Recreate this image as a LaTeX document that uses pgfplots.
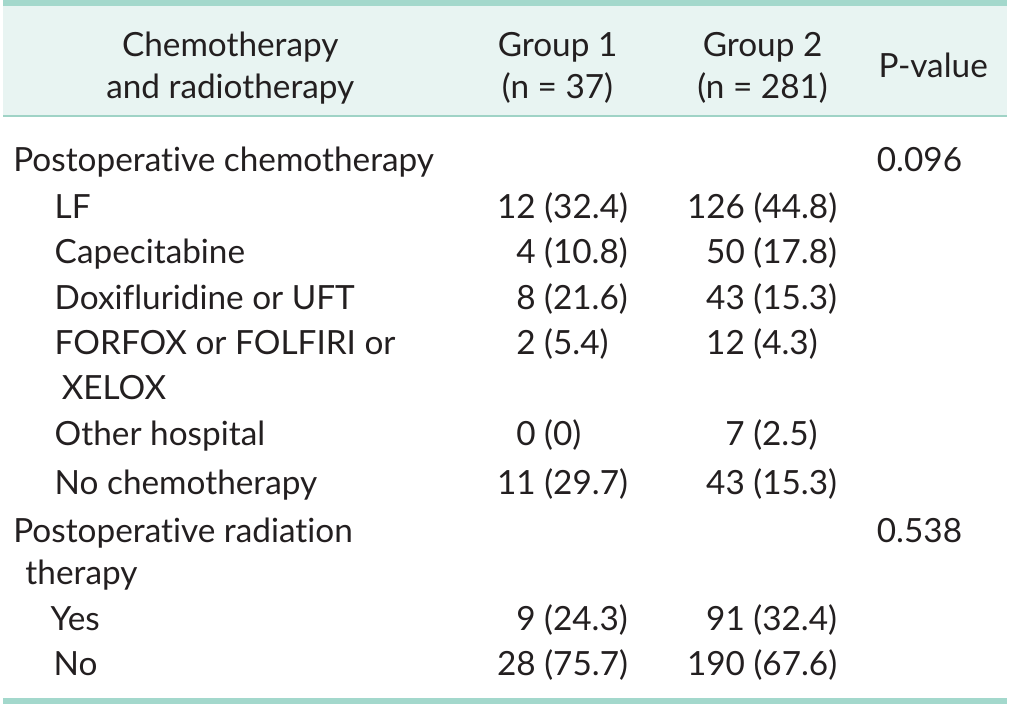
\documentclass[border=0pt]{standalone}
\usepackage{fontspec}
\setmainfont{Lato}[Ligatures=NoCommon]
\usepackage{pgfplots}
\usepackage{pgfplotstable}
\pgfplotsset{compat=1.18}
\definecolor{rulethick}{HTML}{A3D8CC}
\definecolor{rulethin}{HTML}{9FD3C6}
\definecolor{headbg}{HTML}{E8F4F2}
\definecolor{txt}{HTML}{231F20}

\pgfplotstableread[col sep=comma]{
x,y,lab
497,221,12 (32.4)
516,266,4 (10.8)
516,311,8 (21.6)
516,356,2 (5.4)
516,446,0 (0)
497,495,11 (29.7)
516,629,9 (24.3)
497,674,28 (75.7)
}\groupone

\pgfplotstableread[col sep=comma]{
x,y,lab
685,221,126 (44.8)
704,266,50 (17.8)
704,311,43 (15.3)
704,356,12 (4.3)
723,446,7 (2.5)
704,495,43 (15.3)
704,629,91 (32.4)
685,674,190 (67.6)
}\grouptwo

\pgfplotstableread[col sep=comma]{
x,y,lab
873,175,0.096
873,542,0.538
}\pvals

\begin{document}
\begin{tikzpicture}
\begin{axis}[
  width=1010pt, height=707pt, scale only axis,
  xmin=0, xmax=1010, ymin=0, ymax=707, y dir=reverse,
  hide axis, clip=false,
  every node near coord/.style={anchor=base west, inner sep=0pt, text=txt, font=\fontsize{33}{40}\selectfont},
]
\fill[headbg] (axis cs:8,11) rectangle (axis cs:1002,120);
\addplot[rulethick, line width=6pt, forget plot] coordinates {(8,8) (1002,8)};
\addplot[rulethin, line width=2pt, forget plot] coordinates {(8,120) (1002,120)};
\addplot[rulethick, line width=6pt, forget plot] coordinates {(8,699) (1002,699)};

\begin{scope}[every node/.style={inner sep=0pt, text=txt, font=\fontsize{33}{40}\selectfont}]
\node[anchor=base] at (axis cs:233,61) {Chemotherapy};
\node[anchor=base] at (axis cs:233,103) {and radiotherapy};
\node[anchor=base] at (axis cs:557,61) {Group 1};
\node[anchor=base] at (axis cs:557,103) {(n = 37)};
\node[anchor=base] at (axis cs:760,61) {Group 2};
\node[anchor=base] at (axis cs:760,103) {(n = 281)};
\node[anchor=base] at (axis cs:929,82) {P-value};

\node[anchor=base west] at (axis cs:18,175) {Postoperative chemotherapy};
\node[anchor=base west] at (axis cs:59,221) {LF};
\node[anchor=base west] at (axis cs:59,266) {Capecitabine};
\node[anchor=base west] at (axis cs:59,311) {Doxifluridine or UFT};
\node[anchor=base west] at (axis cs:59,356) {FORFOX or FOLFIRI or};
\node[anchor=base west] at (axis cs:66,401) {XELOX};
\node[anchor=base west] at (axis cs:59,446) {Other hospital};
\node[anchor=base west] at (axis cs:59,495) {No chemotherapy};
\node[anchor=base west] at (axis cs:18,542) {Postoperative radiation};
\node[anchor=base west] at (axis cs:30,584) {therapy};
\node[anchor=base west] at (axis cs:55,629) {Yes};
\node[anchor=base west] at (axis cs:58,674) {No};
\end{scope}

\addplot[draw=none, mark=none, nodes near coords, point meta=explicit symbolic] table[x=x, y=y, meta=lab] {\groupone};
\addplot[draw=none, mark=none, nodes near coords, point meta=explicit symbolic] table[x=x, y=y, meta=lab] {\grouptwo};
\addplot[draw=none, mark=none, nodes near coords, point meta=explicit symbolic] table[x=x, y=y, meta=lab] {\pvals};
\end{axis}
\end{tikzpicture}
\end{document}
